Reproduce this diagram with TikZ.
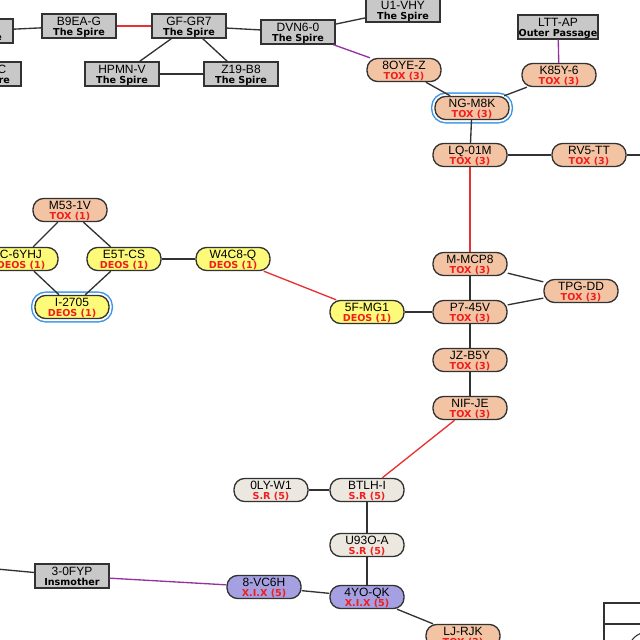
\documentclass[tikz,border=0pt]{standalone}
\usepackage{fontspec}
\setmainfont{Liberation Sans}
\newfontfamily\subfont{DejaVu Sans}
\usepackage{tikz}
\usetikzlibrary{shapes.misc}
\definecolor{boxgray}{RGB}{200,200,200}
\definecolor{linegray}{RGB}{50,50,50}
\definecolor{toxpeach}{RGB}{242,196,164}
\definecolor{deosyellow}{RGB}{252,250,120}
\definecolor{srbeige}{RGB}{236,232,224}
\definecolor{xixblue}{RGB}{165,160,225}
\definecolor{subred}{RGB}{240,30,30}
\definecolor{linkred}{RGB}{230,50,50}
\definecolor{linkpurple}{RGB}{150,50,160}
\definecolor{ringblue}{RGB}{60,150,230}
\newcommand{\gsub}[1]{{\subfont\bfseries\fontsize{7.2}{7.6}\selectfont #1}}
\newcommand{\rsub}[1]{{\subfont\bfseries\fontsize{7.2}{7.6}\selectfont\color{subred}#1}}
\tikzstyle{sysbox} = [rectangle, draw=linegray, line width=1pt, fill=boxgray, minimum width=55.5pt, minimum height=18pt, inner sep=0.5pt, text depth=0pt, align=center, font=\fontsize{9}{7.6}\selectfont]
\tikzstyle{region} = [rectangle, rounded corners=8pt, draw=linegray, line width=1pt, minimum width=55.5pt, minimum height=17.3pt, inner sep=0.5pt, text depth=0pt, align=center, font=\fontsize{9}{7.6}\selectfont]
\tikzstyle{tox} = [region, fill=toxpeach]
\tikzstyle{deos} = [region, fill=deosyellow]
\tikzstyle{sr} = [region, fill=srbeige]
\tikzstyle{xix} = [region, fill=xixblue]
\tikzstyle{ring} = [preaction={draw=ringblue, line width=6pt}, preaction={draw=white, line width=3.8pt}]
\tikzstyle{link} = [line width=1pt, draw=linegray]
\tikzstyle{redlink} = [line width=1pt, draw=linkred]
\tikzstyle{purplelink} = [line width=1pt, draw=linkpurple]

\begin{document}
\begin{tikzpicture}[x=0.75pt, y=-0.75pt]
    \useasboundingbox (0,0) rectangle (640,640);
    \clip (0,0) rectangle (640,640);

    % Place nodes
    \node (cuta) [sysbox] at (-24,31) {\phantom{XXXX-X}\\\gsub{The Spire}};
    \node (cutb) [sysbox] at (-16,74) {\phantom{XXXX-}C\\\gsub{The Spire}};
    \node (b9ea) [sysbox] at (79,26) {B9EA-G\\\gsub{The Spire}};
    \node (gfgr) [sysbox] at (189,26) {GF-GR7\\\gsub{The Spire}};
    \node (dvn6) [sysbox] at (298,32) {DVN6-0\\\gsub{The Spire}};
    \node (hpmn) [sysbox] at (122,74) {HPMN-V\\\gsub{The Spire}};
    \node (z19) [sysbox] at (241,74) {Z19-B8\\\gsub{The Spire}};
    \node (u1vhy) [sysbox] at (403,10) {U1-VHY\\\gsub{The Spire}};
    \node (ltt) [sysbox] at (558,27) {LTT-AP\\\gsub{Outer Passage}};
    \node (oye) [tox] at (404,70) {8OYE-Z\\\rsub{TOX (3)}};
    \node (k85y) [tox] at (559,75) {K85Y-6\\\rsub{TOX (3)}};
    \node (ngm) [tox, ring] at (472,108) {NG-M8K\\\rsub{TOX (3)}};
    \node (lq01) [tox] at (470,155) {LQ-01M\\\rsub{TOX (3)}};
    \node (rv5) [tox] at (589,155) {RV5-TT\\\rsub{TOX (3)}};
    \node (mmcp) [tox] at (470,264) {M-MCP8\\\rsub{TOX (3)}};
    \node (tpg) [tox] at (581,291) {TPG-DD\\\rsub{TOX (3)}};
    \node (p745) [tox] at (470,312) {P7-45V\\\rsub{TOX (3)}};
    \node (jzb) [tox] at (470,360) {JZ-B5Y\\\rsub{TOX (3)}};
    \node (nif) [tox] at (470,408) {NIF-JE\\\rsub{TOX (3)}};
    \node (m53) [tox] at (70,210) {M53-1V\\\rsub{TOX (1)}};
    \node (c6y) [deos] at (21,259) {C-6YHJ\\\rsub{DEOS (1)}};
    \node (e5t) [deos] at (124,259) {E5T-CS\\\rsub{DEOS (1)}};
    \node (w4c) [deos] at (233,259) {W4C8-Q\\\rsub{DEOS (1)}};
    \node (i27) [deos, ring] at (72,307) {I-2705\\\rsub{DEOS (1)}};
    \node (fmg) [deos] at (367,312) {5F-MG1\\\rsub{DEOS (1)}};
    \node (oly) [sr] at (271,490) {0LY-W1\\\rsub{S.R (5)}};
    \node (btlh) [sr] at (367,490) {BTLH-I\\\rsub{S.R (5)}};
    \node (u93) [sr] at (367,545) {U93O-A\\\rsub{S.R (5)}};
    \node (vc6h) [xix] at (264,587) {8-VC6H\\\rsub{X.I.X (5)}};
    \node (yoqk) [xix] at (367,597) {4YO-QK\\\rsub{X.I.X (5)}};
    \node (ljr) [tox] at (463,636) {LJ-RJK\\\rsub{TOX (3)}};
    \node (fyp) [sysbox] at (72,576) {3-0FYP\\\gsub{Insmother}};
    \coordinate (rvout) at (700,155);
    \coordinate (fypout) at (-100,560);

    % Draw edges
    \draw [link] (cuta) -- (b9ea);
    \draw [redlink] (b9ea) -- (gfgr);
    \draw [link] (gfgr) -- (dvn6);
    \draw [link] (gfgr) -- (hpmn);
    \draw [link] (gfgr) -- (z19);
    \draw [link] (hpmn) -- (z19);
    \draw [link] (dvn6) -- (u1vhy);
    \draw [purplelink] (dvn6) -- (oye);
    \draw [link] (oye) -- (ngm);
    \draw [link] (k85y) -- (ngm);
    \draw [purplelink] (ltt) -- (k85y);
    \draw [link] (ngm) -- (lq01);
    \draw [link] (lq01) -- (rv5);
    \draw [link] (rv5) -- (rvout);
    \draw [redlink] (lq01) -- (mmcp);
    \draw [link] (mmcp) -- (p745);
    \draw [link] (mmcp) -- (tpg);
    \draw [link] (p745) -- (tpg);
    \draw [link] (p745) -- (fmg);
    \draw [redlink] (fmg) -- (w4c);
    \draw [link] (w4c) -- (e5t);
    \draw [link] (e5t) -- (m53);
    \draw [link] (c6y) -- (m53);
    \draw [link] (c6y) -- (i27);
    \draw [link] (e5t) -- (i27);
    \draw [link] (p745) -- (jzb);
    \draw [link] (jzb) -- (nif);
    \draw [redlink] (nif) -- (btlh);
    \draw [link] (oly) -- (btlh);
    \draw [link] (btlh) -- (u93);
    \draw [link] (u93) -- (yoqk);
    \draw [link] (yoqk) -- (vc6h);
    \draw [link] (yoqk) -- (ljr);
    \draw [purplelink] (fyp) -- (vc6h);
    \draw [link] (fypout) -- (fyp);

    % Legend box in the lower right corner
    \draw [line width=0.8pt, draw=linegray] (604,603) rectangle (700,700);
    \draw [line width=0.8pt, draw=linegray] (604,624) -- (700,624);
    \draw [line width=0.8pt, draw=linegray] (648,652) circle [radius=20];
\end{tikzpicture}
\end{document}
